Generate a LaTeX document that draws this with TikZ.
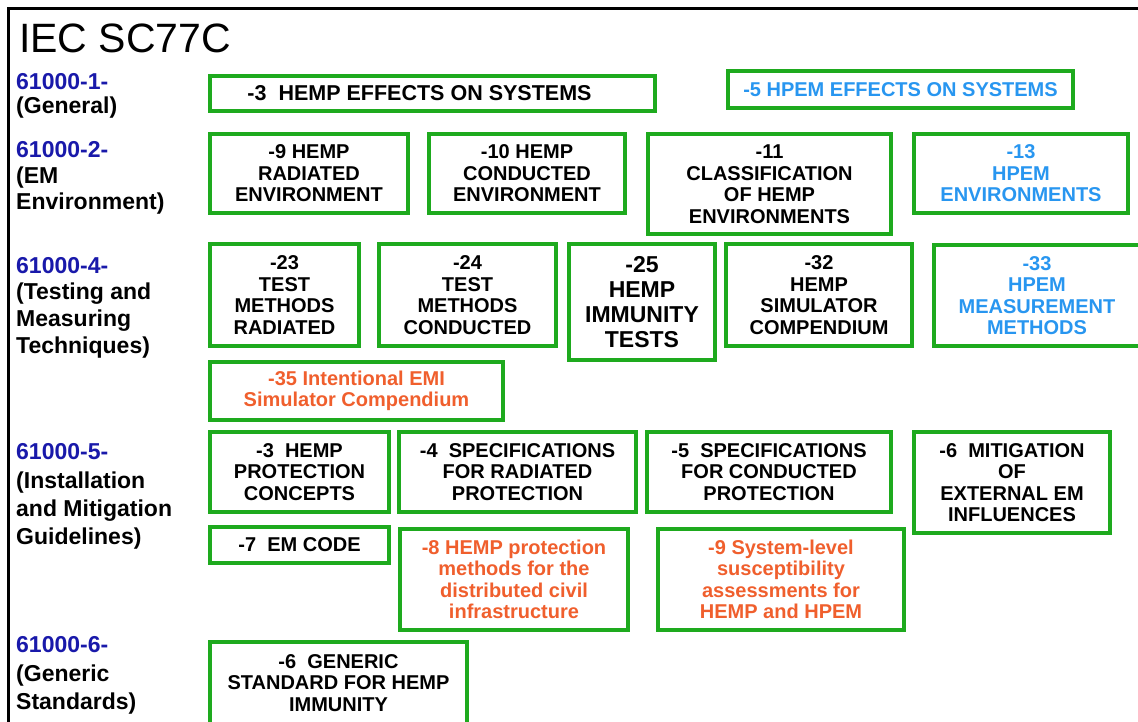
\documentclass[tikz,border=0pt]{standalone}
\usepackage{fontspec}
\setmainfont{Liberation Sans}
\definecolor{hgreen}{RGB}{30,170,30}
\definecolor{hblue}{RGB}{40,150,240}
\definecolor{horange}{RGB}{240,95,45}
\definecolor{ldblue}{RGB}{25,25,170}
\begin{document}
\begin{tikzpicture}[x=1pt,y=-1pt,
  box/.style={draw=hgreen,line width=4pt,inner sep=0pt,align=center,
    font=\fontsize{20}{21.5}\selectfont\bfseries},
  bigbox/.style={box,font=\fontsize{23}{25}\selectfont\bfseries},
  hpem/.style={text=hblue},
  iemi/.style={text=horange},
  lbl/.style={anchor=north west,inner sep=0pt,align=left,
    font=\fontsize{23}{#1}\selectfont\bfseries},
  num/.style={text=ldblue}]
\useasboundingbox (0,0) rectangle (1138,721);
\clip (0,0) rectangle (1138,721);
\fill[white] (0,0) rectangle (1138,721);
% frame
\draw[line width=3pt] (8.5,730) -- (8.5,8.5) -- (1145,8.5);
% title
\node[anchor=base west,inner sep=0pt,font=\fontsize{41}{45}\selectfont] (title) at (19,52.5) {IEC SC77C};
% series labels
\node[lbl=24] (s1) at (16,73.5) {\textcolor{ldblue}{61000-1-}\\(General)};
\node[lbl=26] (s2) at (16,141.5) {\textcolor{ldblue}{61000-2-}\\(EM\\Environment)};
\node[lbl=26.7] (s4) at (16,257) {\textcolor{ldblue}{61000-4-}\\(Testing and\\Measuring\\Techniques)};
\node[lbl=28.3] (s5) at (16,443.5) {\textcolor{ldblue}{61000-5-}\\(Installation\\and Mitigation\\Guidelines)};
\node[lbl=28.5] (s6) at (16,636.5) {\textcolor{ldblue}{61000-6-}\\(Generic\\Standards)};
% 61000-1
\node[box,font=\fontsize{21.5}{23}\selectfont\bfseries,minimum width=445,minimum height=35] (p1a) at (432.5,93.5) {-3\ \ HEMP EFFECTS ON SYSTEMS\hspace*{26pt}};
\node[box,hpem,minimum width=345,minimum height=37] (p1b) at (900.5,89.5) {-5 HPEM EFFECTS ON SYSTEMS};
% 61000-2
\node[box,minimum width=198,minimum height=79] (p2a) at (309,173.5) {-9 HEMP\\RADIATED\\ENVIRONMENT};
\node[box,minimum width=196,minimum height=79] (p2b) at (527,173.5) {-10 HEMP\\CONDUCTED\\ENVIRONMENT};
\node[box,minimum width=243,minimum height=100] (p2c) at (769.5,184) {-11\\CLASSIFICATION\\OF HEMP\\ENVIRONMENTS};
\node[box,hpem,minimum width=214,minimum height=79] (p2d) at (1021,173.5) {-13\\HPEM\\ENVIRONMENTS};
% 61000-4
\node[box,minimum width=149,minimum height=102] (p4a) at (284.5,295) {-23\\TEST\\METHODS\\RADIATED};
\node[box,minimum width=177,minimum height=102] (p4b) at (467.5,295) {-24\\TEST\\METHODS\\CONDUCTED};
\node[bigbox,minimum width=146,minimum height=116] (p4c) at (642,302) {-25\\HEMP\\IMMUNITY\\TESTS};
\node[box,minimum width=186,minimum height=102] (p4d) at (819,295) {-32\\HEMP\\SIMULATOR\\COMPENDIUM};
\node[box,hpem,minimum width=206,minimum height=101] (p4e) at (1037,295.5) {-33\\HPEM\\MEASUREMENT\\METHODS};
\node[box,iemi,minimum width=293,minimum height=58] (p4f) at (356.5,391) {-35 Intentional EMI\\Simulator Compendium};
% 61000-5
\node[box,minimum width=179,minimum height=80] (p5a) at (299.5,472) {-3\ \ HEMP\\PROTECTION\\CONCEPTS};
\node[box,minimum width=237,minimum height=80] (p5b) at (517.5,472) {-4\ \ SPECIFICATIONS\\FOR RADIATED\\PROTECTION};
\node[box,minimum width=244,minimum height=80] (p5c) at (769,472) {-5\ \ SPECIFICATIONS\\FOR CONDUCTED\\PROTECTION};
\node[box,minimum width=196,minimum height=101] (p5d) at (1012,482.5) {-6\ \ MITIGATION\\OF\\EXTERNAL EM\\INFLUENCES};
\node[box,minimum width=179,minimum height=36] (p5e) at (299.5,545) {-7\ \ EM CODE};
\node[box,iemi,minimum width=228,minimum height=101] (p5f) at (514,579.5) {-8 HEMP protection\\methods for the\\distributed civil\\infrastructure};
\node[box,iemi,minimum width=246,minimum height=101] (p5g) at (781,579.5) {-9 System-level\\susceptibility\\assessments for\\HEMP and HPEM};
% 61000-6
\node[box,minimum width=257,minimum height=82] (p6a) at (338.5,683) {-6\ \ GENERIC\\STANDARD FOR HEMP\\IMMUNITY};
\end{tikzpicture}
\end{document}
